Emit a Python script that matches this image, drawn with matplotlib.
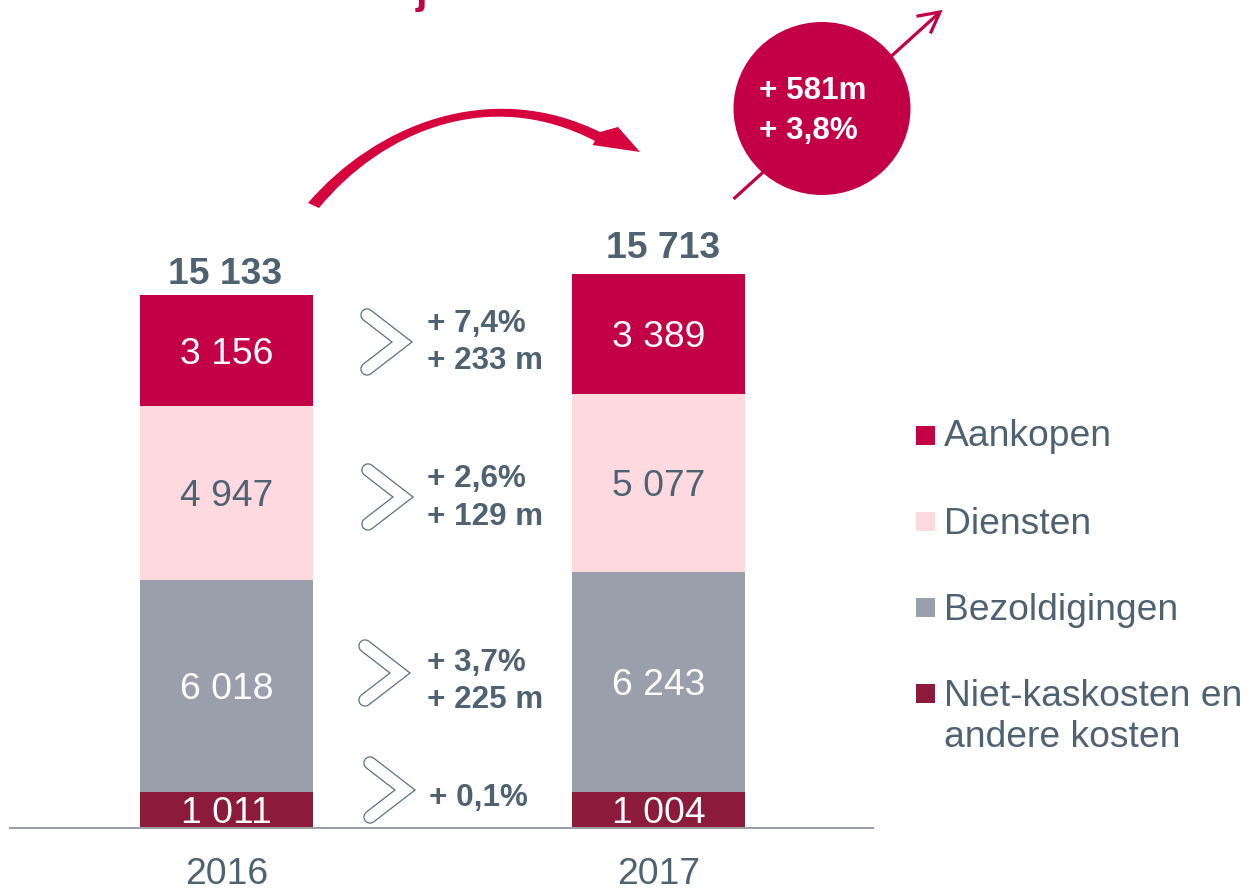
import matplotlib
matplotlib.use("Agg")
import matplotlib.pyplot as plt
from matplotlib.patches import Ellipse, PathPatch, Rectangle
from matplotlib.path import Path

plt.rcParams['font.family'] = ['Liberation Sans', 'DejaVu Sans']

years = ['2016', '2017']
series = ['Niet-kaskosten en\nandere kosten', 'Bezoldigingen', 'Diensten', 'Aankopen']
niet_kas = [1011, 1004]
bezoldigingen = [6018, 6243]
diensten = [4947, 5077]
aankopen = [3156, 3389]
totals = ['15 133', '15 713']
changes = [('+ 7,4%', '+ 233 m'), ('+ 2,6%', '+ 129 m'), ('+ 3,7%', '+ 225 m'), ('+ 0,1%',)]
total_change = ['+ 581m', '+ 3,8%']

C_AANK = '#C30045'
C_DIEN = '#FFD9E0'
C_BEZ = '#9AA0AB'
C_NIET = '#8C1A3A'
C_TEXT = '#4F6272'
C_AXIS = '#9A9FA6'
C_SWOOSH = '#D6033F'

W, H = 1247, 890
PX = 0.72
fig = plt.figure(figsize=(W / 100, H / 100), dpi=100, facecolor='white')

# bar axes: baseline at y=827 px, about 0.0352 px per unit
base_px, top_px = 827.5, 200.0
ymax = (base_px - top_px) / 0.0352
ax = fig.add_axes([10 / W, (H - base_px) / H, 863 / W, (base_px - top_px) / H])
ax.set_facecolor('none')
ax.set_xlim((10 - 226.5) / 432, (873 - 226.5) / 432)
ax.set_ylim(0, ymax)
for s in ['top', 'left', 'right']:
    ax.spines[s].set_visible(False)
ax.spines['bottom'].set_color(C_AXIS)
ax.spines['bottom'].set_linewidth(2 * PX)
ax.set_yticks([])
ax.set_xticks([0, 1])
ax.set_xticklabels(years, fontsize=26.8, color=C_TEXT)
ax.tick_params(axis='x', length=0, pad=21.3)

stack = [(niet_kas, C_NIET, 'white'), (bezoldigingen, C_BEZ, 'white'),
         (diensten, C_DIEN, C_TEXT), (aankopen, C_AANK, 'white')]
bottoms = [0, 0]
for vals, col, tc in stack:
    ax.bar([0, 1], vals, width=0.4, bottom=bottoms, color=col, linewidth=0, zorder=2)
    for i, v in enumerate(vals):
        ax.annotate(f'{v // 1000} {v % 1000:03d}', (i, bottoms[i] + v / 2), xytext=(0, -2.6),
                    textcoords='offset points', ha='center', va='center',
                    color=tc, fontsize=26.8, zorder=3)
    bottoms = [b + v for b, v in zip(bottoms, vals)]

# overlay in pixel coordinates for annotations
ov = fig.add_axes([0, 0, 1, 1])
ov.set_facecolor('none')
ov.set_xlim(0, W)
ov.set_ylim(H, 0)
ov.axis('off')

ov.text(225, 274.5, totals[0], ha='center', va='center', fontsize=26.8, fontweight='bold', color=C_TEXT)
ov.text(663, 248.5, totals[1], ha='center', va='center', fontsize=26.8, fontweight='bold', color=C_TEXT)

# clipped title remnant
ov.text(421, 3, 'j', ha='center', va='baseline', fontsize=30, fontweight='bold', color=C_AANK, clip_on=True)

# chevrons + change labels
chev_tips = [(402, 342), (403, 497), (400, 673), (405, 790)]
text_rows = [(427, (324, 361)), (427, (479, 517)), (427, (663, 700)), (429, (798,))]
for (tx, ty), (lx, ys), labels in zip(chev_tips, text_rows, changes):
    pts = [(tx - 35, ty - 27), (tx, ty), (tx - 35, ty + 27)]
    ov.plot(*zip(*pts), color='#5A7080', lw=13.5 * PX, solid_capstyle='round', solid_joinstyle='miter', zorder=4)
    ov.plot(*zip(*pts), color='white', lw=11.0 * PX, solid_capstyle='round', solid_joinstyle='miter', zorder=5)
    for y, lab in zip(ys, labels):
        ov.text(lx, y, lab, ha='left', va='center', fontsize=22.6, fontweight='bold', color=C_TEXT, zorder=6)

# swoosh arrow
verts = [(308, 203), (375, 125), (490, 78), (600, 132),
         (618, 127), (640, 152), (592.5, 145), (595, 141),
         (490, 86), (382, 131), (319, 208), (308, 203)]
codes = [Path.MOVETO, Path.CURVE4, Path.CURVE4, Path.CURVE4,
         Path.LINETO, Path.LINETO, Path.LINETO, Path.LINETO,
         Path.CURVE4, Path.CURVE4, Path.CURVE4, Path.CLOSEPOLY]
ov.add_patch(PathPatch(Path(verts, codes), facecolor=C_SWOOSH, edgecolor='none', zorder=3))

# growth arrow and circle
ov.plot([733.5, 939], [199, 13], color=C_AANK, lw=3.2 * PX, zorder=3, solid_capstyle='butt')
ov.plot([918, 940, 931], [16, 12, 32], color=C_AANK, lw=3.2 * PX, zorder=3, solid_joinstyle='miter')
ov.add_patch(Ellipse((822, 108.5), 177, 173, facecolor=C_AANK, edgecolor='none', zorder=4))
ov.text(759, 91, total_change[0], ha='left', va='center', fontsize=22.6, fontweight='bold', color='white', zorder=5)
ov.text(759, 131, total_change[1], ha='left', va='center', fontsize=22.6, fontweight='bold', color='white', zorder=5)

# legend
leg_rows = [(series[3], C_AANK, 435, 437), (series[2], C_DIEN, 521, 524),
            (series[1], C_BEZ, 607, 610), (series[0], C_NIET, 693, 717)]
for name, col, sq_y, txt_y in leg_rows:
    ov.add_patch(Rectangle((916, sq_y - 9.5), 19, 19, facecolor=col, edgecolor='none'))
    ov.text(944, txt_y, name, ha='left', va='center', fontsize=26.8, color=C_TEXT, linespacing=1.25)

fig.savefig('out.png', dpi=100)
